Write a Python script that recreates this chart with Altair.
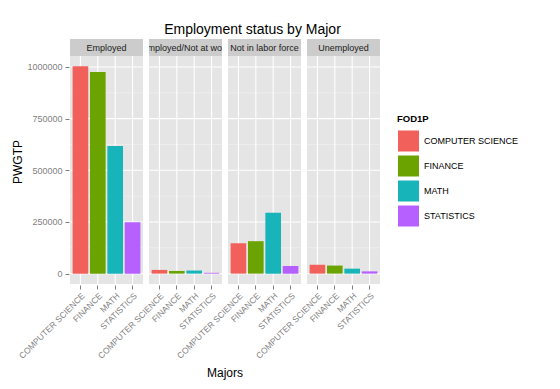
import altair as alt
import pandas as pd

statuses = ["Employed", "Employed/Not at work", "Not in labor force", "Unemployed"]
majors = ["COMPUTER SCIENCE", "FINANCE", "MATH", "STATISTICS"]
employed = [1003000, 976000, 618000, 249000]
not_at_work = [18000, 13000, 15000, 4000]
not_in_lf = [147000, 157000, 295000, 37000]
unemployed = [43000, 39000, 24000, 11000]
colors = ["#F2605B", "#6BA300", "#17B5BA", "#B660FF"]
y_ticks = [0, 250000, 500000, 750000, 1000000]
minor_ticks = [125000, 375000, 625000, 875000]

rows = []
for st, vals in zip(statuses, [employed, not_at_work, not_in_lf, unemployed]):
    for m, v in zip(majors, vals):
        rows.append({"Status": st, "Major": m, "PWGTP": v})
df = pd.DataFrame(rows)

W = 73
STRIP = 17
PH = 228
H = PH + STRIP
lo, hi = -50150, 1053150
top = hi + (hi - lo) * STRIP / PH
FONT = "Liberation Sans"

xscale = alt.Scale(paddingInner=0.1, paddingOuter=0.15)
yscale = alt.Scale(domain=[lo, top], nice=False, zero=False)
yaxis = alt.Axis(title="PWGTP", values=y_ticks, format="d", labelFontSize=9,
                 labelColor="#7F7F7F", tickColor="#7F7F7F", tickSize=4, domain=False,
                 grid=False, titleFontSize=12, titleFontWeight="normal", titleColor="black",
                 labelPadding=3, titlePadding=2)
xaxis = alt.Axis(title=None, labelAngle=-45, labelFontSize=8.5, labelColor="#7F7F7F",
                 tickColor="#7F7F7F", tickSize=4, domain=False, grid=False,
                 bandPosition=0.5, labelPadding=2)


def grid_base():
    return alt.Chart().transform_aggregate(n="count()", groupby=["Status"])


minor = grid_base().transform_calculate(m=str(minor_ticks)).transform_flatten(["m"]).mark_rule(
    color="#F2F2F2", strokeWidth=0.6
).encode(y=alt.Y("m:Q", scale=yscale, axis=yaxis), x=alt.value(0), x2=alt.value(W))

major = grid_base().transform_calculate(m=str(y_ticks)).transform_flatten(["m"]).mark_rule(
    color="white", strokeWidth=1.1
).encode(y=alt.Y("m:Q", scale=yscale, axis=yaxis), x=alt.value(0), x2=alt.value(W))

vgrid = alt.Chart().mark_rule(color="white", strokeWidth=1.1).encode(
    x=alt.X("Major:N", scale=xscale, sort=majors, axis=xaxis),
    y=alt.value(STRIP), y2=alt.value(H),
)

bars = alt.Chart().mark_bar().encode(
    x=alt.X("Major:N", scale=xscale, sort=majors, axis=xaxis),
    y=alt.Y("PWGTP:Q", scale=yscale, axis=yaxis),
    color=alt.Color("Major:N", sort=majors, scale=alt.Scale(domain=majors, range=colors),
                    legend=alt.Legend(title="FOD1P", symbolType="square", symbolSize=484,
                                      symbolStrokeColor="white", symbolStrokeWidth=1,
                                      symbolOpacity=1, labelFontSize=9, titleFontSize=9.5,
                                      titleFontWeight="bold", rowPadding=-4.5,
                                      orient="none", legendX=327, legendY=75,
                                      labelColor="black", titleColor="black",
                                      titlePadding=6)),
)

strip = grid_base().mark_rect(color="#CCCCCC").encode(
    x=alt.value(0), x2=alt.value(W), y=alt.value(0), y2=alt.value(STRIP)
)

strip_text = grid_base().mark_text(clip=True, fontSize=9, color="#1A1A1A", baseline="middle",
                                   align="center", font=FONT).encode(
    text="Status:N", x=alt.value(W / 2), y=alt.value(STRIP / 2 + 0.5)
)

layer = alt.layer(minor, major, vgrid, bars, strip, strip_text).properties(width=W, height=H)

chart = layer.facet(
    column=alt.Column("Status:N", sort=statuses,
                      header=alt.Header(labels=False, title="Majors", titleOrient="bottom",
                                        titleFontSize=12, titleFontWeight="normal",
                                        titleColor="black", titlePadding=-2)),
    data=df,
).properties(
    spacing=4,
    padding={"left": 3, "top": 15, "right": 5, "bottom": 5},
    title=alt.Title("Employment status by Major", fontSize=14, fontWeight="normal",
                    color="black", anchor="middle", offset=2, dx=-13),
).configure(font=FONT).configure_view(fill="#E5E5E5", stroke=None)

chart.save("out.html", embed_options={"renderer": "svg", "actions": False})
